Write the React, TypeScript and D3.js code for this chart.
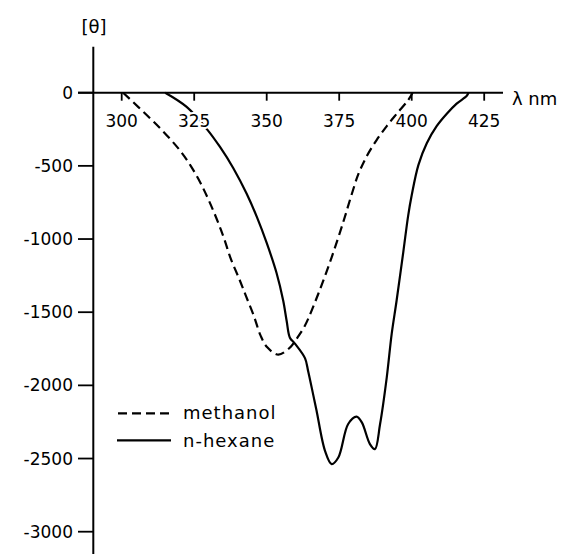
import React from 'react';
import { scaleLinear, line, curveCatmullRom } from 'd3';

const width = 566;
const height = 554;

// x: wavelength (nm), y: molar ellipticity
const wavelengthTicks = [300, 325, 350, 375, 400, 425];
const thetaTicks = [0, -500, -1000, -1500, -2000, -2500, -3000];
const thetaTickLabels = ['0', '-500', '-1000', '-1500', '-2000', '-2500', '-3000'];

const methanolNm = [300.5, 309.8, 315.5, 320.3, 323.8, 327.0, 329.9, 332.8, 335.3, 337.6, 340.6, 342.9, 345.6, 347.9, 350.2, 354.0, 358.1, 360.3, 363.2, 367.8, 372.4, 376.4, 379.1, 381.6, 384.5, 387.9, 391.4, 394.8, 398.8, 400.3];
const methanolTheta = [0, -175, -290, -400, -500, -610, -730, -865, -997, -1134, -1276, -1392, -1527, -1660, -1740, -1790, -1740, -1682, -1591, -1374, -1125, -884, -708, -557, -434, -324, -228, -145, -50, 0];

const hexaneNm = [315.0, 322.4, 329.3, 333.9, 338.5, 343.1, 346.6, 350.0, 353.4, 355.7, 356.9, 358.0, 359.8, 363.2, 364.3, 366.1, 367.2, 370.1, 372.4, 374.7, 378.1, 381.0, 382.8, 385.6, 387.3, 389.1, 391.4, 393.1, 394.8, 397.1, 398.8, 400.0, 402.3, 405.2, 408.6, 412.1, 415.5, 419.0, 419.6];
const hexaneTheta = [0, -97, -247, -371, -516, -691, -849, -1027, -1232, -1422, -1562, -1674, -1716, -1814, -1903, -2070, -2173, -2447, -2538, -2493, -2264, -2214, -2253, -2401, -2436, -2264, -1945, -1648, -1420, -1089, -838, -701, -495, -346, -229, -144, -75, -21, 0];

const legendLabels = ['methanol', 'n-hexane'];

const font = 'DejaVu Sans, sans-serif';

const App = () => {
  const x = scaleLinear().domain([300, 425]).range([121.7, 484.2]);
  const y = scaleLinear().domain([0, -3000]).range([92.7, 531.7]);

  const axisX = 93.3;
  const axisY = y(0);

  const path = line<[number, number]>()
    .x(d => x(d[0]))
    .y(d => y(d[1]))
    .curve(curveCatmullRom.alpha(0.5));

  const methanol = methanolNm.map((n, i) => [n, methanolTheta[i]] as [number, number]);
  const hexane = hexaneNm.map((n, i) => [n, hexaneTheta[i]] as [number, number]);

  return (
    <svg width={width} height={height} style={{ position: 'absolute', left: 0, top: 0, background: '#fff' }}>
      <rect width={width} height={height} fill="#fff" />

      <path d={path(methanol) || ''} fill="none" stroke="#000" strokeWidth={2.2} strokeDasharray="9,5" />
      <path d={path(hexane) || ''} fill="none" stroke="#000" strokeWidth={2.2} />

      {/* axes */}
      <line x1={axisX} x2={axisX} y1={46.7} y2={height} stroke="#000" strokeWidth={2} />
      <line x1={78} x2={503} y1={axisY} y2={axisY} stroke="#000" strokeWidth={2} />

      {wavelengthTicks.map(t => (
        <g key={t} transform={`translate(${x(t)},0)`}>
          <line y1={axisY} y2={axisY + 8} stroke="#000" strokeWidth={1.8} />
          <text
            y={126.5}
            textAnchor="middle"
            fontFamily={font}
            fontSize={17}
            stroke="#fff"
            strokeWidth={4}
            paintOrder="stroke"
          >
            {t}
          </text>
        </g>
      ))}

      {thetaTicks.map((t, i) => (
        <g key={t} transform={`translate(0,${y(t)})`}>
          <line x1={78} x2={axisX} stroke="#000" strokeWidth={1.8} />
          <text x={73} dy="0.36em" textAnchor="end" fontFamily={font} fontSize={17}>
            {thetaTickLabels[i]}
          </text>
        </g>
      ))}

      <text x={94} y={33} textAnchor="middle" fontFamily={font} fontSize={18}>[θ]</text>
      <text x={512} y={105} fontFamily={font} fontSize={18}>λ nm</text>

      {/* legend */}
      <line x1={118} x2={171} y1={413.3} y2={413.3} stroke="#000" strokeWidth={2.2} strokeDasharray="9,5" />
      <text x={183} y={419.3} fontFamily={font} fontSize={18} letterSpacing={1}>{legendLabels[0]}</text>
      <line x1={117} x2={171} y1={440.3} y2={440.3} stroke="#000" strokeWidth={2.2} />
      <text x={183} y={446.7} fontFamily={font} fontSize={18} letterSpacing={1}>{legendLabels[1]}</text>
    </svg>
  );
};

export default App;
